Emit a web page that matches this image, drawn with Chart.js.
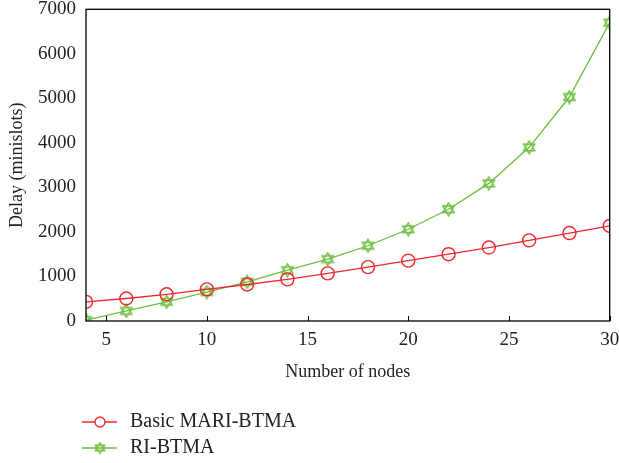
<!DOCTYPE html>
<html>
<head>
<meta charset="utf-8">
<script src="https://cdn.jsdelivr.net/npm/chart.js@4/dist/chart.umd.min.js"></script>
<style>
    html, body { margin: 0; padding: 0; background: #fff; }
    #wrap { width: 619px; height: 463px; position: relative; }
</style>
</head>
<body>
<div id="wrap"><canvas id="myChart" width="619" height="463"></canvas></div>
<script>
const nodes = [4, 6, 8, 10, 12, 14, 16, 18, 20, 22, 24, 26, 28, 30];
const basicMari = [430, 505, 600, 710, 820, 935, 1070, 1210, 1355, 1500, 1650, 1810, 1975, 2135];
const riBtma = [20, 225, 430, 650, 880, 1140, 1390, 1690, 2060, 2510, 3090, 3900, 5030, 6700];
const xTicks = [5, 10, 15, 20, 25, 30];
const yTicks = [0, 1000, 2000, 3000, 4000, 5000, 6000, 7000];

const red = '#f0262b';
const green = '#6cbf3e';
const fontFamily = '"Liberation Serif", "DejaVu Serif", serif';

// star of david marker
function makeStar(size, color, lw) {
    const c = document.createElement('canvas');
    c.width = size;
    c.height = size;
    const g = c.getContext('2d');
    const r = size / 2 - 1;
    const cx = size / 2, cy = size / 2;
    g.strokeStyle = color;
    g.lineWidth = lw;
    [-Math.PI / 2, Math.PI / 2].forEach(start => {
        g.beginPath();
        for (let i = 0; i < 3; i++) {
            const a = start + i * 2 * Math.PI / 3;
            const px = cx + r * Math.cos(a), py = cy + r * Math.sin(a);
            if (i === 0) g.moveTo(px, py); else g.lineTo(px, py);
        }
        g.closePath();
        g.stroke();
    });
    return c;
}

const starBig = makeStar(15, green, 1.4);
const starSmall = makeStar(13, green, 1.3);

const frame = {
    id: 'frame',
    afterDraw(chart) {
        const { ctx, chartArea: a, scales } = chart;
        ctx.save();
        ctx.strokeStyle = '#000';
        ctx.lineWidth = 1.3;
        ctx.strokeRect(a.left, a.top, a.right - a.left, a.bottom - a.top);
        // inward ticks on x
        ctx.lineWidth = 1;
        xTicks.forEach(v => {
            const x = Math.round(scales.x.getPixelForValue(v)) + 0.5;
            ctx.beginPath();
            ctx.moveTo(x, a.bottom);
            ctx.lineTo(x, a.bottom - 5);
            ctx.stroke();
        });

        // legend
        const items = [
            { label: 'Basic MARI-BTMA', color: red, circle: true },
            { label: 'RI-BTMA', color: green, circle: false }
        ];
        ctx.font = '20px ' + fontFamily;
        ctx.textBaseline = 'middle';
        items.forEach((it, i) => {
            const y = 422 + i * 26;
            ctx.strokeStyle = it.color;
            ctx.lineWidth = 1.3;
            ctx.beginPath();
            ctx.moveTo(82, y);
            ctx.lineTo(117, y);
            ctx.stroke();
            if (it.circle) {
                ctx.fillStyle = '#fff';
                ctx.beginPath();
                ctx.arc(100, y, 5, 0, Math.PI * 2);
                ctx.fill();
                ctx.stroke();
            } else {
                ctx.drawImage(starSmall, 100 - 6.5, y - 6.5);
            }
            ctx.fillStyle = '#222';
            ctx.fillText(it.label, 130, y);
        });
        ctx.restore();
    }
};

const ctx = document.getElementById('myChart').getContext('2d');
const myChart = new Chart(ctx, {
    type: 'line',
    data: {
        labels: nodes,
        datasets: [{
            label: 'Basic MARI-BTMA',
            data: nodes.map((n, i) => ({ x: n, y: basicMari[i] })),
            borderColor: red,
            borderWidth: 1.3,
            pointStyle: 'circle',
            pointRadius: 6.5,
            pointBorderWidth: 1.4,
            pointBorderColor: red,
            pointBackgroundColor: 'rgba(0,0,0,0)',
            fill: false,
            tension: 0
        }, {
            label: 'RI-BTMA',
            data: nodes.map((n, i) => ({ x: n, y: riBtma[i] })),
            borderColor: green,
            borderWidth: 1.3,
            pointStyle: starBig,
            pointRadius: 8,
            fill: false,
            tension: 0
        }]
    },
    options: {
        responsive: false,
        animation: false,
        layout: { padding: { top: 9, right: 9, left: 0, bottom: 78 } },
        plugins: {
            legend: { display: false },
            tooltip: { enabled: false }
        },
        scales: {
            x: {
                type: 'linear',
                min: 4,
                max: 30,
                afterBuildTicks: s => { s.ticks = xTicks.map(v => ({ value: v })); },
                afterFit: s => { s.height = 64; s.paddingLeft = 0; s.paddingRight = 0; },
                grid: { display: false },
                border: { display: false },
                ticks: {
                    color: '#222',
                    font: { family: fontFamily, size: 19 },
                    padding: 0,
                    callback: v => String(v)
                },
                title: {
                    display: true,
                    text: 'Number of nodes',
                    color: '#222',
                    font: { family: fontFamily, size: 18 },
                    padding: { top: 4, bottom: 2 }
                }
            },
            y: {
                min: 0,
                max: 7000,
                afterBuildTicks: s => { s.ticks = yTicks.map(v => ({ value: v })); },
                afterFit: s => { s.width = 86; s.paddingTop = 0; s.paddingBottom = 0; },
                grid: { display: false },
                border: { display: false },
                ticks: {
                    color: '#222',
                    font: { family: fontFamily, size: 19 },
                    padding: 2,
                    callback: v => String(v)
                },
                title: {
                    display: true,
                    text: 'Delay (minislots)',
                    color: '#222',
                    font: { family: fontFamily, size: 18 },
                    padding: { top: 6, bottom: 2 }
                }
            }
        }
    },
    plugins: [frame]
});
</script>
</body>
</html>
